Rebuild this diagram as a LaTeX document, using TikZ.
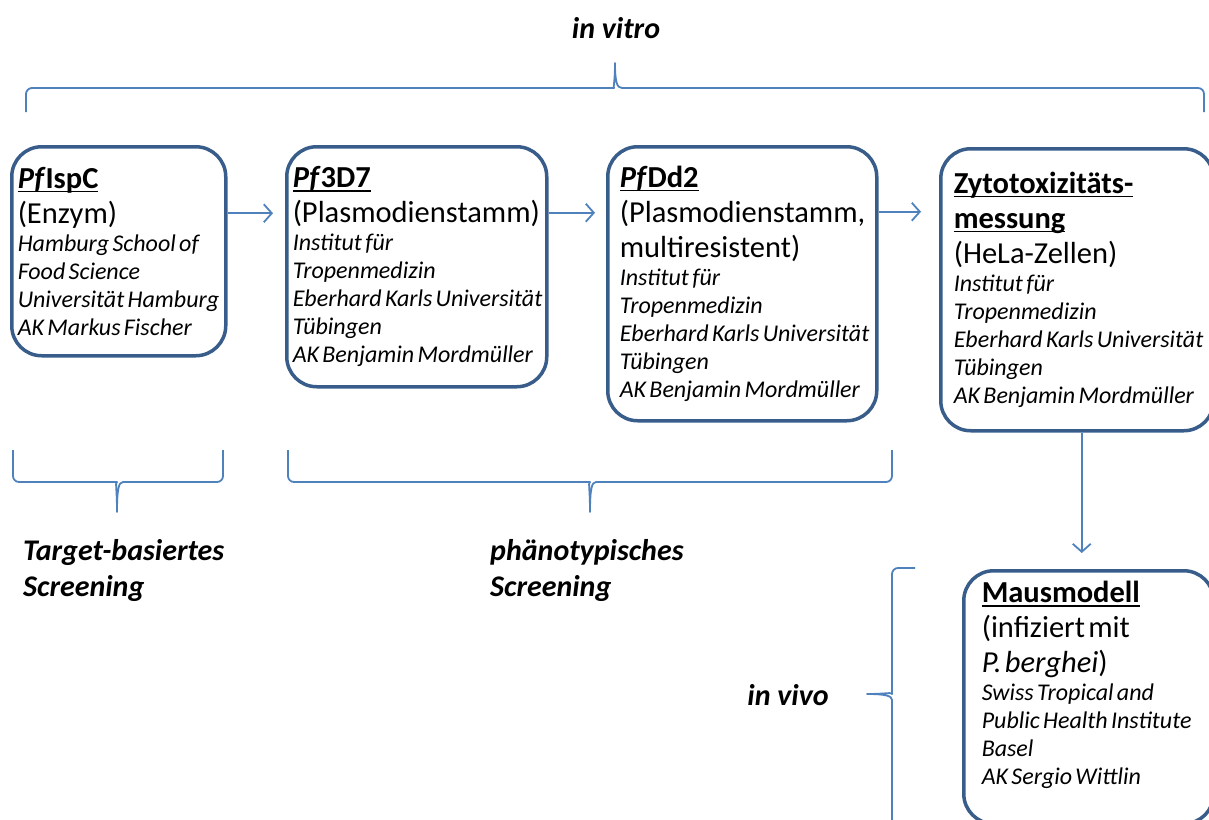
\documentclass[tikz,border=0pt]{standalone}
\usepackage{fontspec}
\setmainfont{Carlito}
\usepackage{tikz}
\usetikzlibrary{arrows.meta, positioning, calc}
\definecolor{boxblue}{RGB}{56, 93, 138}
\definecolor{lineblue}{RGB}{79, 129, 189}
\hyphenpenalty=10000
\exhyphenpenalty=10000
\newcommand{\hdsize}{\fontsize{30.5}{35}\selectfont}
\newcommand{\infosize}{\fontsize{24}{28}\selectfont\itshape}
\newcommand{\hdul}[1]{\leavevmode\setbox0\hbox{#1}\rlap{\rule[-4pt]{\wd0}{1.6pt}}\box0}
\tikzstyle{stage} = [rectangle, draw=boxblue, line width=3.5pt, rounded corners=30pt, anchor=north west, align=left, inner xsep=6pt, inner ysep=0pt]
\tikzstyle{arrow} = [-{Straight Barb[length=8pt, width=18pt]}, line width=1.8pt, draw=lineblue]
\tikzstyle{bracepath} = [line width=1.8pt, draw=lineblue, line join=round]
\tikzstyle{tagtext} = [font=\fontsize{30}{36}\selectfont\bfseries\itshape, align=left, inner sep=0pt]

\begin{document}
\begin{tikzpicture}[x=1pt, y=-1pt]
    \useasboundingbox (0,0) rectangle (1209,819);

    % in vitro
    \node[tagtext] (vitro) at (616,28) {in vitro};
    \draw[bracepath, rounded corners=6pt] (26,112) -- (26,88) -- (608,88) [sharp corners] .. controls (613,88) and (615,82) .. (615,63) .. controls (615,82) and (617,88) .. (622,88) [rounded corners=6pt] -- (1204,88) -- (1204,112);

    % Stages
    \node[stage, text width=202pt, minimum height=209pt] (ispc) at (10,145) {{\hdsize\hdul{\textbf{\textit{Pf}IspC}}\\(Enzym)\par}{\infosize Hamburg~School~of\\Food~Science\\Universität~Hamburg\\AK~Markus~Fischer\par}};
    \node[stage, text width=248pt, minimum height=240pt] (pf3d7) at (285,145) {{\hdsize\hdul{\textbf{\textit{Pf}3D7}}\\(Plasmodienstamm)\par}{\infosize Institut~für\\Tropenmedizin\\Eberhard~Karls~Universität\\Tübingen\\AK~Benjamin~Mordmüller\par}};
    \node[stage, inner xsep=12pt, text width=245pt, minimum height=274pt] (pfdd2) at (606,145) {{\hdsize\hdul{\textbf{\textit{Pf}Dd2}}\\(Plasmodienstamm,\\multiresistent)\par}{\infosize Institut~für\\Tropenmedizin\\Eberhard~Karls~Universität\\Tübingen\\AK~Benjamin~Mordmüller\par}};
    \node[stage, inner xsep=13pt, text width=247pt, minimum height=282pt] (zyto) at (939,147) {{\hdsize\hdul{\textbf{Zytotoxizitäts-}}\\\hdul{\textbf{messung}}\\(HeLa-Zellen)\par}{\infosize Institut~für\\Tropenmedizin\\Eberhard~Karls~Universität\\Tübingen\\AK~Benjamin~Mordmüller\par}};
    \node[stage, inner xsep=18pt, text width=214pt, minimum height=253pt] (maus) at (962,569) {{\hdsize\hdul{\textbf{Mausmodell}}\\(infiziert~mit\\\textit{P.~berghei})\par}{\infosize Swiss~Tropical~and\\Public~Health~Institute\\Basel\\AK~Sergio~Wittlin\par\mbox{}\par}};

    % Arrows
    \draw[arrow, shorten >=12pt] ([yshift=38pt]ispc.east) -- ([yshift=38pt]ispc.east -| pf3d7.west);
    \draw[arrow, shorten >=11pt] ([yshift=54pt]pf3d7.east) -- ([yshift=54pt]pf3d7.east -| pfdd2.west);
    \draw[arrow, shorten >=18pt] ([yshift=72pt]pfdd2.east) -- ([yshift=72pt]pfdd2.east -| zyto.west);
    \draw[arrow, shorten >=16pt] ([xshift=4.5pt]zyto.south) -- ([xshift=4.5pt]zyto.south |- maus.north);

    % Screening braces
    \draw[bracepath, rounded corners=6pt] (13,450) -- (13,482) -- (111,482) [sharp corners] .. controls (115,482) and (117,488) .. (117,512) .. controls (117,488) and (119,482) .. (123,482) [rounded corners=6pt] -- (223,482) -- (223,450);
    \draw[bracepath, rounded corners=6pt] (288,450) -- (288,482) -- (584,482) [sharp corners] .. controls (588,482) and (590,488) .. (590,512) .. controls (590,488) and (592,482) .. (596,482) [rounded corners=6pt] -- (892,482) -- (892,450);
    \node[tagtext, anchor=west] (tscreen) at (23,570) {Target-basiertes\\Screening};
    \node[tagtext, anchor=west] (pscreen) at (490,570) {phänotypisches\\Screening};

    % in vivo
    \draw[bracepath, rounded corners=6pt] (915,568) -- (892,568) -- (892,688) [sharp corners] .. controls (892,692) and (886,694) .. (867,694) .. controls (886,694) and (892,696) .. (892,700) [rounded corners=6pt] -- (892,830) -- (915,830);
    \node[tagtext] (vivo) at (788,695) {in vivo};
\end{tikzpicture}
\end{document}
